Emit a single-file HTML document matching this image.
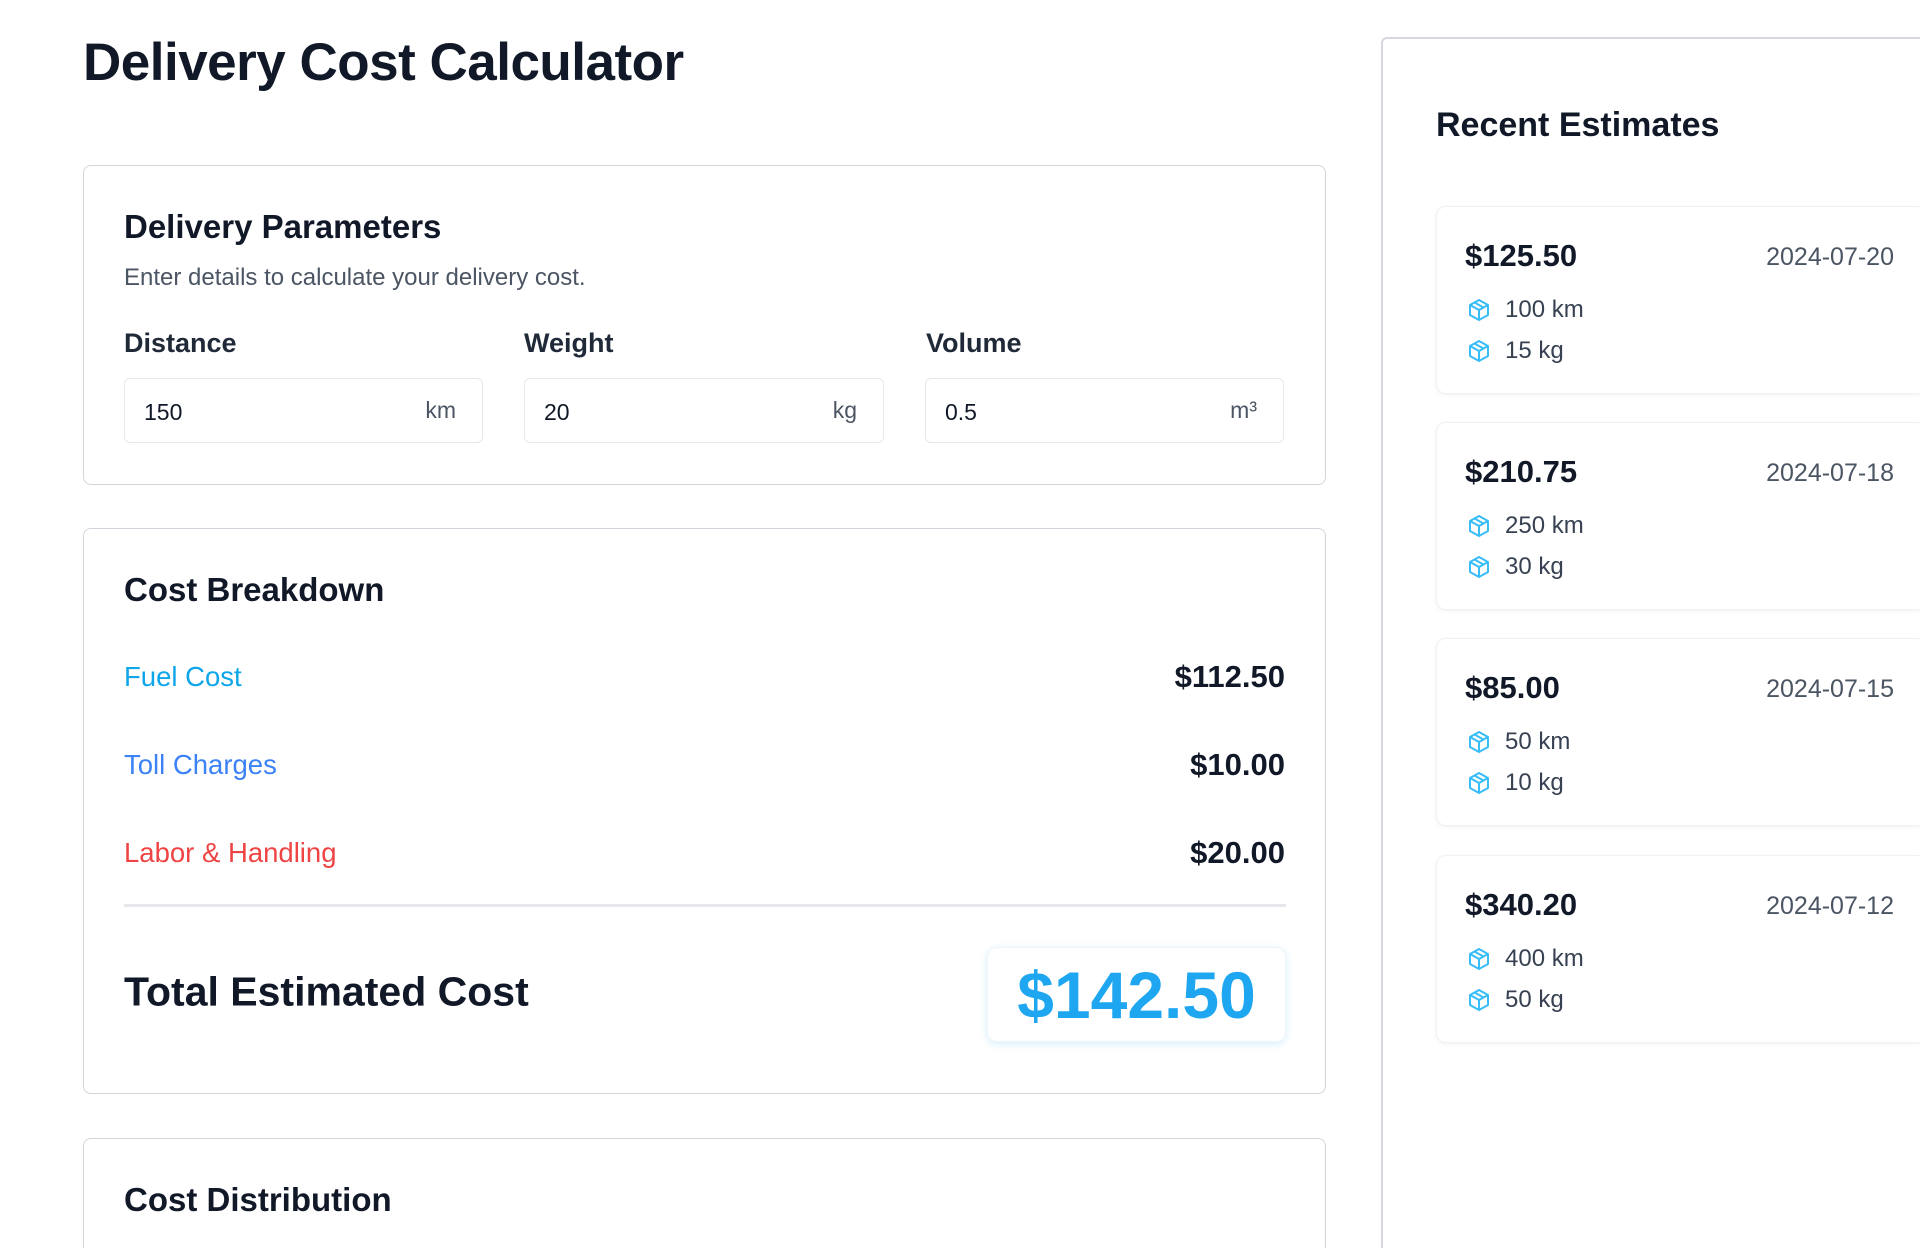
<!DOCTYPE html>
<html style="overflow:hidden;height:1248px"><head><meta charset="utf-8"><style>
*{box-sizing:border-box;margin:0;padding:0}
body{width:1920px;height:1248px;overflow:hidden;background:#fff;font-family:"Liberation Sans",sans-serif;color:#111827;position:relative}
.a{position:absolute;white-space:nowrap}
.card{position:absolute;border:1.5px solid #d1d5db;border-radius:8px;background:#fff}
.inp{position:absolute;top:378px;height:65px;border:1.5px solid #e5e7eb;border-radius:6px;font-size:23px}
.inp .v{position:absolute;left:19px;top:20px;color:#111827}
.inp .u{position:absolute;right:26px;top:18px;color:#4b5563}
.lbl{font-size:27.5px;transform:translateY(-50%)}
.val{font-size:31px;font-weight:bold;right:calc(1920px - 1285px);transform:translateY(-50%)}
.est{position:absolute;left:1436px;width:484px;height:188px;border:1px solid #f1f2f4;border-right:none;border-radius:10px 0 0 10px;box-shadow:0 1px 4px rgba(0,0,0,.06);background:#fff}
.est .p{position:absolute;left:28px;top:31px;font-size:31px;font-weight:bold}
.est .d{position:absolute;right:26px;top:36px;font-size:25px;color:#4b5563}
.est .r{position:absolute;left:30px;font-size:24px;color:#374151;display:flex;align-items:center}
.est .r svg{margin-right:14px}
</style></head><body>
<div class="a" style="left:83px;top:32px;font-size:53px;font-weight:bold;letter-spacing:-0.5px">Delivery Cost Calculator</div>

<div class="card" style="left:83px;top:165px;width:1243px;height:320px"></div>
<div class="a" style="left:124px;top:208px;font-size:33px;font-weight:bold">Delivery Parameters</div>
<div class="a" style="left:124px;top:264px;font-size:24px;color:#4b5563">Enter details to calculate your delivery cost.</div>
<div class="a" style="left:124px;top:328px;font-size:27px;font-weight:bold;color:#1f2937">Distance</div>
<div class="a" style="left:524px;top:328px;font-size:27px;font-weight:bold;color:#1f2937">Weight</div>
<div class="a" style="left:926px;top:328px;font-size:27px;font-weight:bold;color:#1f2937">Volume</div>
<div class="inp" style="left:124px;width:359px"><span class="v">150</span><span class="u">km</span></div>
<div class="inp" style="left:524px;width:360px"><span class="v">20</span><span class="u">kg</span></div>
<div class="inp" style="left:925px;width:359px"><span class="v">0.5</span><span class="u">m³</span></div>

<div class="card" style="left:83px;top:528px;width:1243px;height:566px"></div>
<div class="a" style="left:124px;top:571px;font-size:33px;font-weight:bold">Cost Breakdown</div>
<div class="a lbl" style="left:124px;top:677px;color:#0ea5e9">Fuel Cost</div>
<div class="a val" style="top:677px">$112.50</div>
<div class="a lbl" style="left:124px;top:765px;color:#3b82f6">Toll Charges</div>
<div class="a val" style="top:765px">$10.00</div>
<div class="a lbl" style="left:124px;top:853px;color:#ef4444">Labor &amp; Handling</div>
<div class="a val" style="top:853px">$20.00</div>
<div class="a" style="left:124px;top:904px;width:1162px;height:3px;background:#e5e7eb"></div>
<div class="a" style="left:124px;top:992px;transform:translateY(-50%);font-size:41px;font-weight:bold">Total Estimated Cost</div>
<div class="a" style="left:987px;top:947px;width:299px;height:95px;border-radius:10px;box-shadow:0 2px 8px rgba(14,165,233,.18);border:1px solid #eef6fb;display:flex;align-items:center;justify-content:center;font-size:66px;font-weight:bold;color:#1ea7f0">$142.50</div>

<div class="card" style="left:83px;top:1138px;width:1243px;height:110px;border-bottom:none;border-radius:8px 8px 0 0"></div>
<div class="a" style="left:124px;top:1181px;font-size:33px;font-weight:bold">Cost Distribution</div>

<div class="a" style="left:1381px;top:37px;width:539px;height:1211px;border-left:2px solid #d6d8e0;border-top:2px solid #d6d8e0;border-radius:6px 0 0 0"></div>
<div class="a" style="left:1436px;top:106px;font-size:34px;font-weight:bold">Recent Estimates</div>

<svg width="0" height="0" style="position:absolute"><defs><g id="box" fill="none" stroke="#38bdf8" stroke-width="2" stroke-linejoin="round"><path d="M12 2 L21 7 L21 17 L12 22 L3 17 L3 7 Z"/><path d="M3 7 L12 12 L21 7 M12 12 L12 22 M7.5 4.5 L16.5 9.5"/></g></defs></svg>

<div class="est" style="top:206px"><div class="p">$125.50</div><div class="d">2024-07-20</div>
<div class="r" style="top:89px"><svg width="24" height="24" viewBox="0 0 24 24"><use href="#box"/></svg>100 km</div>
<div class="r" style="top:130px"><svg width="24" height="24" viewBox="0 0 24 24"><use href="#box"/></svg>15 kg</div></div>
<div class="est" style="top:422px"><div class="p">$210.75</div><div class="d">2024-07-18</div>
<div class="r" style="top:89px"><svg width="24" height="24" viewBox="0 0 24 24"><use href="#box"/></svg>250 km</div>
<div class="r" style="top:130px"><svg width="24" height="24" viewBox="0 0 24 24"><use href="#box"/></svg>30 kg</div></div>
<div class="est" style="top:638px"><div class="p">$85.00</div><div class="d">2024-07-15</div>
<div class="r" style="top:89px"><svg width="24" height="24" viewBox="0 0 24 24"><use href="#box"/></svg>50 km</div>
<div class="r" style="top:130px"><svg width="24" height="24" viewBox="0 0 24 24"><use href="#box"/></svg>10 kg</div></div>
<div class="est" style="top:855px"><div class="p">$340.20</div><div class="d">2024-07-12</div>
<div class="r" style="top:89px"><svg width="24" height="24" viewBox="0 0 24 24"><use href="#box"/></svg>400 km</div>
<div class="r" style="top:130px"><svg width="24" height="24" viewBox="0 0 24 24"><use href="#box"/></svg>50 kg</div></div>
</body></html>
